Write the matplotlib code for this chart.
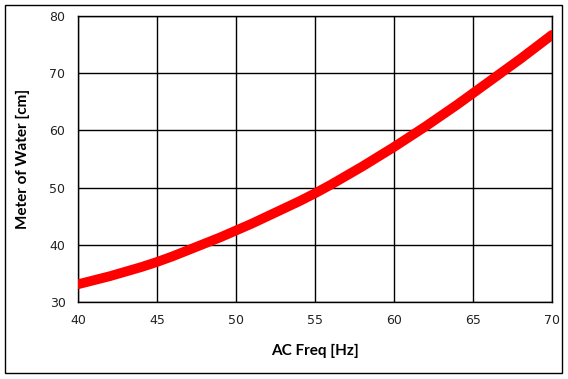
import matplotlib
matplotlib.use("Agg")
import matplotlib.pyplot as plt
from matplotlib.patches import Rectangle

# AC frequency vs water level
freq = [40, 41, 42, 43, 44, 45, 46, 47, 48, 49, 50, 51, 52, 53, 54, 55,
        56, 57, 58, 59, 60, 61, 62, 63, 64, 65, 66, 67, 68, 69, 70]
meter = [33.1, 33.8, 34.5, 35.3, 36.1, 37.0, 38.0, 39.1, 40.2, 41.3, 42.5,
         43.7, 45.0, 46.3, 47.6, 49.0, 50.5, 52.1, 53.7, 55.4, 57.1, 58.9,
         60.7, 62.6, 64.5, 66.5, 68.5, 70.5, 72.5, 74.6, 76.7]
xticks = [40, 45, 50, 55, 60, 65, 70]
yticks = [30, 40, 50, 60, 70, 80]

W, H = 568, 379
fig = plt.figure(figsize=(W / 100, H / 100), dpi=100)
ax = fig.add_axes([78 / W, 1 - 302 / H, (552 - 78) / W, (302 - 16) / H])

ax.plot(freq, meter, color="#ff0000", lw=7, solid_capstyle="round", zorder=3)

ax.set_xlim(40, 70)
ax.set_ylim(30, 80)
ax.set_xticks(xticks)
ax.set_yticks(yticks)
ax.grid(True, color="black", lw=1)
ax.tick_params(length=0, pad=9, labelsize=9, labelcolor="#222222")
for s in ax.spines.values():
    s.set_linewidth(1)

lab = dict(fontsize=11, fontweight="bold", family="Lato")
ax.set_xlabel("AC Freq [Hz]", labelpad=12, **lab)
ax.set_ylabel("Meter of Water [cm]", labelpad=14, **lab)

# outer chart border
fig.patches.append(Rectangle((5 / W, 1 - 373 / H), (562 - 5) / W, (373 - 5) / H,
                             transform=fig.transFigure, fill=False,
                             edgecolor="black", lw=1))

fig.savefig("out.png", dpi=100)
